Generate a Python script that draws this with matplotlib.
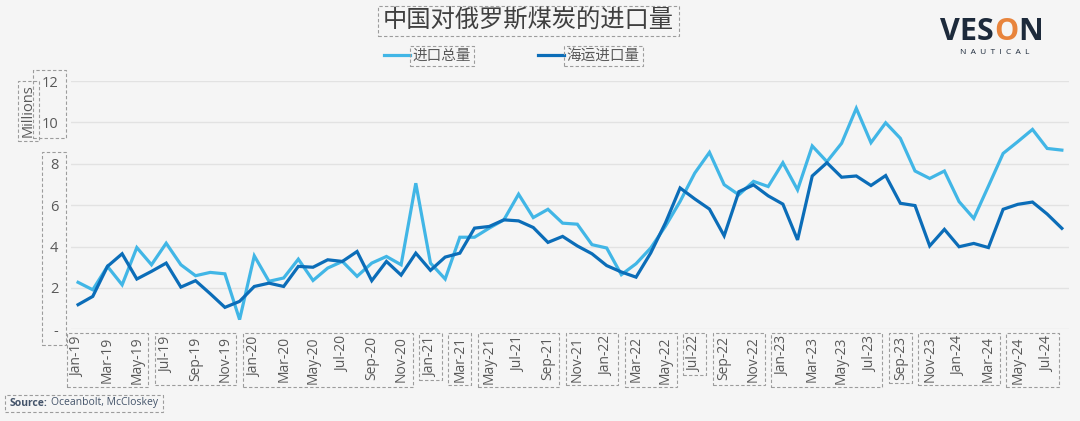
import matplotlib
matplotlib.use("Agg")
import matplotlib.pyplot as plt
from matplotlib.patches import Rectangle
from matplotlib.font_manager import FontProperties

MON = ["Jan", "Feb", "Mar", "Apr", "May", "Jun", "Jul", "Aug", "Sep", "Oct", "Nov", "Dec"]
months = [f"{m}-{y}" for y in range(19, 25) for m in MON][:68]   # Jan-19 .. Aug-24

# total imports (millions t)
total = [2.27, 1.91, 3.04, 2.15, 3.95, 3.12, 4.16, 3.12, 2.59, 2.75, 2.68, 0.47,
         3.55, 2.32, 2.48, 3.39, 2.36, 2.96, 3.28, 2.56, 3.20, 3.52, 3.12, 7.06,
         3.20, 2.43, 4.45, 4.45, 4.89, 5.29, 6.53, 5.40, 5.80, 5.13, 5.08, 4.09,
         3.93, 2.64, 3.17, 3.93, 4.98, 6.18, 7.55, 8.55, 6.99, 6.50, 7.15, 6.90,
         8.05, 6.74, 8.86, 8.10, 8.99, 10.68, 9.02, 9.98, 9.23, 7.65, 7.29, 7.65,
         6.17, 5.36, 6.92, 8.50, 9.07, 9.66, 8.74, 8.66]

# seaborne imports (millions t)
seaborne = [1.19, 1.59, 3.04, 3.65, 2.43, 2.80, 3.20, 2.04, 2.35, 1.72, 1.06, 1.35,
            2.07, 2.23, 2.07, 3.04, 3.00, 3.36, 3.28, 3.76, 2.35, 3.28, 2.62, 3.68,
            2.85, 3.49, 3.68, 4.89, 4.97, 5.29, 5.24, 4.92, 4.20, 4.49, 4.03, 3.65,
            3.08, 2.77, 2.52, 3.69, 5.14, 6.83, 6.30, 5.81, 4.52, 6.65, 6.98, 6.45,
            6.05, 4.32, 7.41, 8.05, 7.35, 7.41, 6.95, 7.43, 6.09, 5.98, 4.03, 4.83,
            3.99, 4.15, 3.95, 5.80, 6.04, 6.15, 5.57, 4.88]

y_ticks = [0, 2, 4, 6, 8, 10, 12]
y_labels = ["-", "2", "4", "6", "8", "10", "12"]

# which x tick labels share one dashed box in the reference
tick_groups = [[0, 1, 2], [3, 4, 5], [6, 7, 8, 9, 10, 11], [12], [13], [14, 15, 16],
               [17, 18], [19, 20], [21], [22, 23], [24, 25, 26, 27], [28],
               [29, 30, 31], [32, 33]]

BG = "#F5F5F5"
LIGHT = "#41B6E6"
DARK = "#0B6DB8"
GREY = "#595959"
BOX = "#9C9C9C"
NAVY = "#1D2A3B"
ORANGE = "#E8843C"
CJK = ["Noto Sans CJK SC", "DejaVu Sans"]

plt.rcParams["font.family"] = ["Open Sans", "DejaVu Sans"]

fig = plt.figure(figsize=(10.8, 4.21), dpi=100, facecolor=BG)
ax = fig.add_axes([0.0655, 0.2178, 0.9245, 0.5898], facecolor=BG)

x = list(range(len(months)))
ax.plot(x, total, color=LIGHT, lw=2.3, solid_joinstyle="miter", label="进口总量")
ax.plot(x, seaborne, color=DARK, lw=2.3, solid_joinstyle="miter", label="海运进口量")

ax.set_xlim(-0.5, len(months) - 0.5)
ax.set_ylim(0, 12)
ax.set_yticks(y_ticks)
ax.set_yticklabels(y_labels, fontsize=10.5, color=GREY)
ax.set_xticks(x[::2])
ax.set_xticklabels(months[::2], rotation=90, fontsize=10, color=GREY)
ax.tick_params(axis="x", length=0, pad=5)
ax.tick_params(axis="y", length=0, pad=9)
ax.grid(axis="y", color="#E2E2E2", lw=1)
ax.set_axisbelow(True)
for s in ax.spines.values():
    s.set_visible(False)

title = fig.text(0.489, 0.950, "中国对俄罗斯煤炭的进口量", ha="center", va="center",
                 fontsize=17.5, color="#404040", family=CJK)
ylab = fig.text(28 / 1080, 1 - 111 / 421, "Millions", rotation=90, ha="center",
                va="center", fontsize=10.5, color=GREY)

leg = ax.legend(loc="center", bbox_to_anchor=(512 / 1080, 1 - 56 / 421),
                bbox_transform=fig.transFigure, ncol=2, frameon=False,
                handlelength=1.8, handletextpad=0.15, columnspacing=4.6,
                prop=FontProperties(family=CJK, size=10.5))
for t in leg.get_texts():
    t.set_color(GREY)

src1 = fig.text(10 / 1080, 1 - 403 / 421, "Source:", fontsize=7.5, weight="bold",
                color="#44546A", va="center")

fig.canvas.draw()
renderer = fig.canvas.get_renderer()
inv = fig.transFigure.inverted()


def px_to_fig(px, py):
    return inv.transform((px, py))


bb = src1.get_window_extent(renderer)
src2 = fig.text(px_to_fig(bb.x1 + 3, 0)[0], 1 - 403 / 421, "Oceanbolt, McCloskey",
                fontsize=7.5, color="#44546A", va="center")

# logo
logo_y = 1 - 32 / 421
ves = fig.text(940 / 1080, logo_y, "VES", fontsize=22, weight="bold", color=NAVY, va="center")
bb = ves.get_window_extent(renderer)
o = fig.text(px_to_fig(bb.x1, 0)[0], logo_y, "O", fontsize=22, weight="bold",
             color=ORANGE, va="center")
bb = o.get_window_extent(renderer)
n = fig.text(px_to_fig(bb.x1, 0)[0], logo_y, "N", fontsize=22, weight="bold",
             color=NAVY, va="center")
fig.text(995 / 1080, 1 - 53 / 421, "N  A  U  T  I  C  A  L", fontsize=6, color=NAVY,
         ha="center", va="center")

fig.canvas.draw()


def dashed_box(items, padx=3, pady=3):
    bbs = [t.get_window_extent(renderer) for t in items]
    x0 = min(b.x0 for b in bbs) - padx
    x1 = max(b.x1 for b in bbs) + padx
    y0 = min(b.y0 for b in bbs) - pady
    y1 = max(b.y1 for b in bbs) + pady
    fx0, fy0 = px_to_fig(x0, y0)
    fx1, fy1 = px_to_fig(x1, y1)
    fig.add_artist(Rectangle((fx0, fy0), fx1 - fx0, fy1 - fy0, transform=fig.transFigure,
                             fill=False, ec=BOX, lw=0.8, ls=(0, (3, 2))))


dashed_box([title], 5, 2)
dashed_box([ylab], 3, 4)
for t in leg.get_texts():
    dashed_box([t], 3, 3)
dashed_box([src1, src2], 5, 3)

yl = ax.get_yticklabels()
dashed_box([yl[5], yl[6]], 8, 6)
dashed_box(yl[:5], 8, 6)

xl = ax.get_xticklabels()
for g in tick_groups:
    dashed_box([xl[i] for i in g], 4, 3)

fig.savefig("out.png", dpi=100, facecolor=BG)
